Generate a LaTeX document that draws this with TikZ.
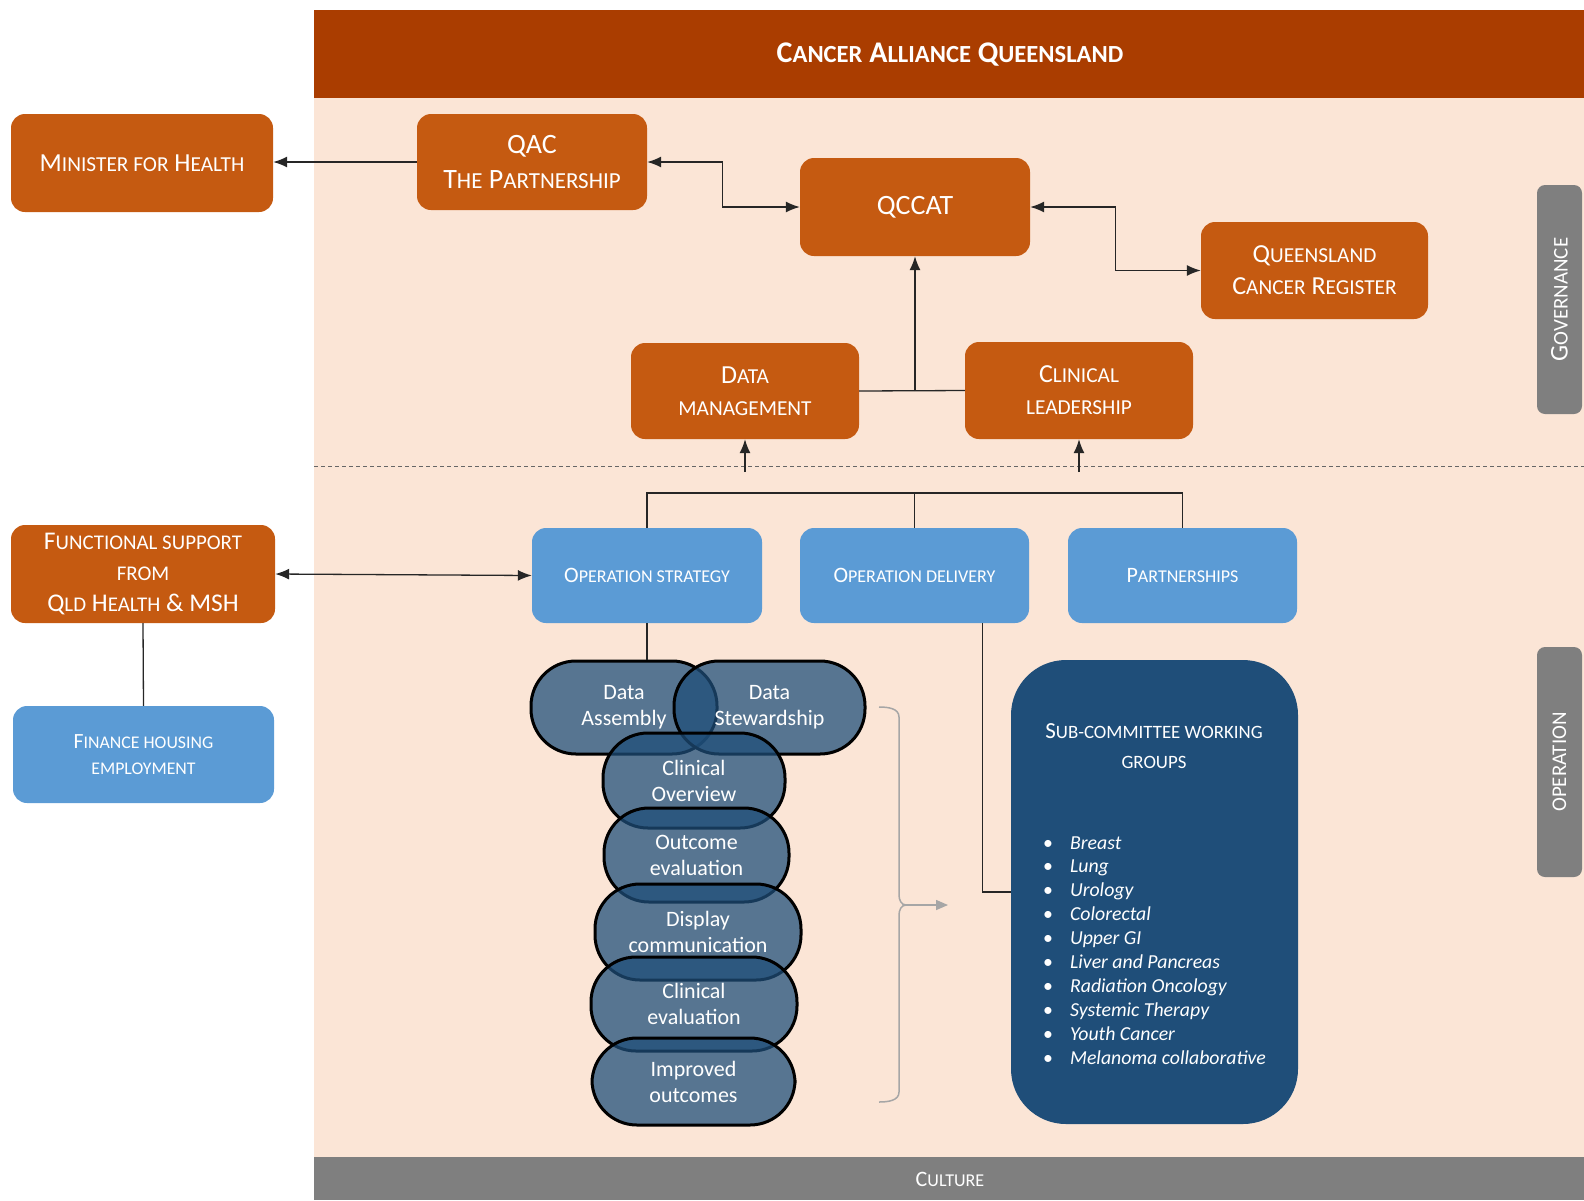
\documentclass[tikz,border=0pt]{standalone}
\usepackage{fontspec}
\setmainfont{Carlito}
\usetikzlibrary{arrows.meta}
\definecolor{hdr}{HTML}{AA3D00}
\definecolor{org}{HTML}{C55A11}
\definecolor{pinkbg}{HTML}{FBE5D6}
\definecolor{lblue}{HTML}{5B9BD5}
\definecolor{dblue}{HTML}{1F4E79}
\definecolor{tabgray}{HTML}{7F7F7F}
\definecolor{brgray}{HTML}{A6A6A6}
\makeatletter
\newcommand\smc[1]{{\fontsize{\fpeval{0.82*\f@size}}{\f@baselineskip}\selectfont #1}}
\makeatother
\tikzset{
 obox/.style={fill=org, rounded corners=14pt, text=white, align=center, inner sep=0pt},
 bbox/.style={fill=lblue, rounded corners=14pt, text=white, align=center, inner sep=0pt},
 conn/.style={line width=1.3pt, draw=black!85},
 arr/.style={conn, -{Latex[length=14pt,width=11pt]}},
 dblarr/.style={conn, {Latex[length=14pt,width=11pt]}-{Latex[length=14pt,width=11pt]}},
 pill/.style={draw=black, line width=3pt, fill=dblue, fill opacity=0.74, text opacity=1, text=white, rounded corners=45pt, align=center, inner sep=0pt, font=\fontsize{22}{26}\selectfont},
 sidetab/.style={fill=tabgray, rounded corners=8pt, text=white, rotate=90, inner sep=0pt, minimum height=45pt, font=\fontsize{25.5}{28}\selectfont},
}
\begin{document}
\begin{tikzpicture}[x=1pt,y=-1pt]
\useasboundingbox (0,0) rectangle (1584,1200);
% backgrounds
\fill[pinkbg] (314,98) rectangle (1584,1157);
\fill[hdr] (314,10) rectangle (1584,98);
\fill[tabgray] (314,1157) rectangle (1584,1200);
\node[text=white, font=\bfseries\fontsize{30}{36}\selectfont] (title) at (950,55) {C\smc{ANCER} A\smc{LLIANCE} Q\smc{UEENSLAND}};
\node[text=white, font=\fontsize{22}{26}\selectfont] (culture) at (950,1179) {C\smc{ULTURE}};
\draw[black!60, line width=0.8pt, dash pattern=on 4pt off 3pt] (314,466) -- (1584,466);
% side tabs
\node[sidetab, minimum width=229pt] (gov) at (1559.5,299.5) {G\smc{OVERNANCE}};
\node[sidetab, minimum width=230pt] (oper) at (1559.5,762) {\smc{OPERATION}};
% governance boxes
\node[obox, minimum width=262pt, minimum height=98pt, font=\fontsize{26}{33}\selectfont] (min) at (142,163) {M\smc{INISTER FOR} H\smc{EALTH}};
\node[obox, minimum width=230pt, minimum height=96pt, font=\fontsize{28}{35}\selectfont] (qac) at (532,162) {QAC\\T\smc{HE} P\smc{ARTNERSHIP}};
\node[obox, minimum width=230pt, minimum height=98pt, font=\fontsize{28}{34}\selectfont] (qccat) at (915,207) {QCCAT};
\node[obox, minimum width=227pt, minimum height=97pt, font=\fontsize{26}{32}\selectfont] (qcr) at (1314.5,270.5) {Q\smc{UEENSLAND}\\C\smc{ANCER} R\smc{EGISTER}};
\node[obox, minimum width=228pt, minimum height=96pt, font=\fontsize{26}{32}\selectfont] (dm) at (745,391) {D\smc{ATA}\\\smc{MANAGEMENT}};
\node[obox, minimum width=228pt, minimum height=97pt, font=\fontsize{26}{32}\selectfont] (cl) at (1079,390.5) {C\smc{LINICAL}\\\smc{LEADERSHIP}};
% support boxes
\node[obox, minimum width=264pt, minimum height=98pt, font=\fontsize{25.5}{31}\selectfont] (fs) at (143,574) {F\smc{UNCTIONAL SUPPORT}\\\smc{FROM}\\Q\smc{LD} H\smc{EALTH} \& MSH};
\node[bbox, minimum width=261pt, minimum height=97pt, font=\fontsize{21.7}{26}\selectfont] (fh) at (143.5,754.5) {F\smc{INANCE HOUSING}\\\smc{EMPLOYMENT}};
% operation boxes
\node[bbox, minimum width=230pt, minimum height=95pt, font=\fontsize{22}{26}\selectfont] (os) at (647,575.5) {O\smc{PERATION STRATEGY}};
\node[bbox, minimum width=229pt, minimum height=95pt, font=\fontsize{22}{26}\selectfont] (od) at (914.5,575.5) {O\smc{PERATION DELIVERY}};
\node[bbox, minimum width=229pt, minimum height=95pt, font=\fontsize{22}{26}\selectfont] (pt) at (1182.5,575.5) {P\smc{ARTNERSHIPS}};
% sub-committee box
\node[fill=dblue, rounded corners=55pt, minimum width=287pt, minimum height=464pt, inner sep=0pt] (sc) at (1154.5,892) {};
\node[text=white, align=center, font=\fontsize{23}{30}\selectfont] (sctitle) at (1154,746) {S\smc{UB-COMMITTEE WORKING}\\\smc{GROUPS}};
\node[text=white, anchor=base west, inner sep=0pt, font=\fontsize{19.8}{23.9}\selectfont] (sclist) at (1043,849) {\begin{tabular}[t]{@{}l@{\hspace{17pt}}l@{}}
\textbullet & \textit{Breast}\\
\textbullet & \textit{Lung}\\
\textbullet & \textit{Urology}\\
\textbullet & \textit{Colorectal}\\
\textbullet & \textit{Upper GI}\\
\textbullet & \textit{Liver and Pancreas}\\
\textbullet & \textit{Radiation Oncology}\\
\textbullet & \textit{Systemic Therapy}\\
\textbullet & \textit{Youth Cancer}\\
\textbullet & \textit{Melanoma collaborative}
\end{tabular}};
% pills
\node[pill, minimum width=186pt, minimum height=93pt] (da) at (624,707.5) {Data\\Assembly};
\node[pill, minimum width=191pt, minimum height=93pt] (ds) at (769.5,707.5) {Data\\Stewardship};
\node[pill, minimum width=182pt, minimum height=95pt] (co) at (694,780.5) {Clinical\\Overview};
\node[pill, minimum width=185pt, minimum height=94pt] (oe) at (696.5,855) {Outcome\\evaluation};
\node[pill, minimum width=206pt, minimum height=96pt] (dc) at (698,932) {Display\\communication};
\node[pill, minimum width=206pt, minimum height=94pt] (ce) at (694,1004) {Clinical\\evaluation};
\node[pill, minimum width=203pt, minimum height=87pt] (io) at (693.5,1081.5) {Improved\\outcomes};
% brace
\coordinate (btip) at (906,905);
\coordinate (barrow) at (948,905);
\draw[brgray, line width=1.5pt] (879,707) to[out=0,in=90] (899,717) -- (899,895) to[out=-90,in=180] (btip) to[out=180,in=90] (899,915) -- (899,1092) to[out=-90,in=0] (879,1102);
\draw[brgray, line width=1.5pt, -{Triangle[length=12pt,width=10pt]}] (btip) -- (barrow);
% connectors
\draw[arr] (qac.west) -- (qac.west -| min.east);
\draw[dblarr] (qac.east) -- ++(75,0) |- (qccat.west);
\draw[dblarr] (qccat.east) -- ++(85,0) |- (qcr.west);
\draw[conn] (dm.east) -- (cl.west);
\draw[arr] (dm.east -| qccat.south) -- (qccat.south);
\coordinate (dmfoot) at (745,472);
\coordinate (clfoot) at (1079,472);
\draw[arr] (dmfoot) -- (dm.south);
\draw[arr] (clfoot) -- (cl.south);
\coordinate (tee) at (914.5,493);
\draw[conn] (os.north) -- (os.north |- tee) -- (pt.north |- tee) -- (pt.north);
\draw[conn] (od.north) -- (tee);
\draw[dblarr] (fs.east) -- (os.west);
\draw[conn] (fs.south) -- (fh.north);
\draw[conn] (os.south) -- (os.south |- da.north);
\draw[conn] ([xshift=68pt]od.south) |- (sc.west);
\end{tikzpicture}
\end{document}
